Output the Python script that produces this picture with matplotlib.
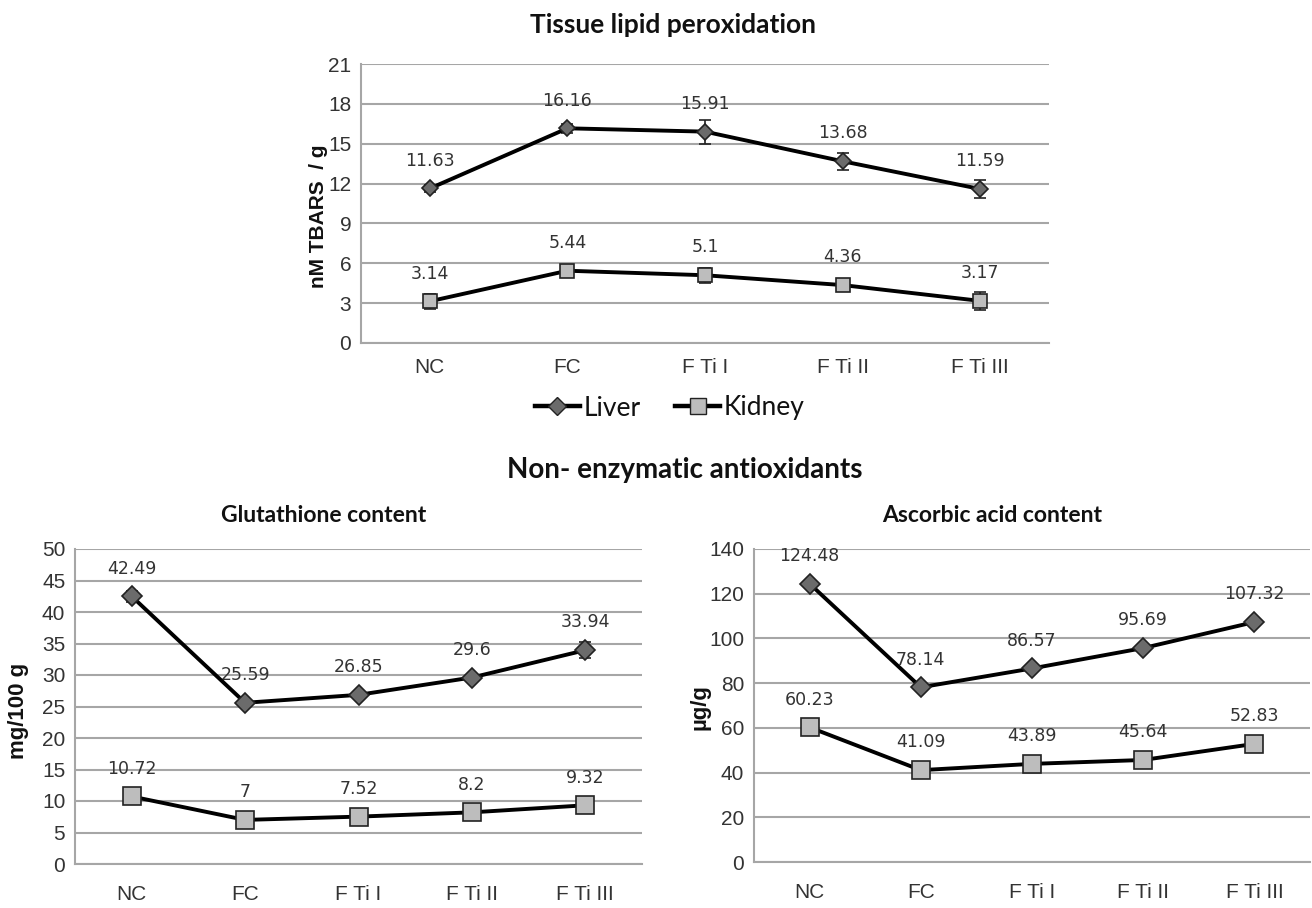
import matplotlib
matplotlib.use('Agg')
import matplotlib.pyplot as plt
from matplotlib.lines import Line2D

# ---------------- data ----------------
groups = ['NC', 'FC', 'F Ti I', 'F Ti II', 'F Ti III']

tbars_liver = [11.63, 16.16, 15.91, 13.68, 11.59]
tbars_kidney = [3.14, 5.44, 5.1, 4.36, 3.17]
tbars_liver_err = [0.3, 0.35, 0.9, 0.65, 0.7]
tbars_kidney_err = [0.55, 0.3, 0.55, 0.4, 0.7]

gsh_liver = [42.49, 25.59, 26.85, 29.6, 33.94]
gsh_kidney = [10.72, 7, 7.52, 8.2, 9.32]
gsh_liver_err = [0.9, 0.6, 0.5, 0.5, 1.3]
gsh_kidney_err = [0.5, 0.4, 0.4, 0.4, 0.4]

asc_liver = [124.48, 78.14, 86.57, 95.69, 107.32]
asc_kidney = [60.23, 41.09, 43.89, 45.64, 52.83]

tbars_ticks = list(range(0, 22, 3))
gsh_ticks = list(range(0, 51, 5))
asc_ticks = list(range(0, 141, 20))

# ---------------- styling ----------------
W, H = 1312, 908
fig = plt.figure(figsize=(W / 100, H / 100), dpi=100)
fig.patch.set_facecolor('white')

TICK_FONT = ['Liberation Sans Narrow', 'Liberation Sans', 'DejaVu Sans']
TITLE_FONT = ['Lato', 'DejaVu Sans']
LABEL_FONT = ['Liberation Sans', 'DejaVu Sans']
GRID_C = '#a6a6a6'
TXT_C = '#333333'
LIVER_FC = '#6b6b6b'
KIDNEY_FC = '#bdbdbd'


def box(l, t, r, b):
    return [l / W, 1 - b / H, (r - l) / W, (b - t) / H]


def style_axes(ax, ticks, ymax, xpad):
    x = list(range(len(groups)))
    ax.set_xlim(-0.5, len(groups) - 0.5)
    ax.set_ylim(0, ymax)
    ax.set_yticks(ticks)
    ax.set_xticks(x)
    ax.set_xticklabels(groups)
    ax.yaxis.grid(True, color=GRID_C, linewidth=1.5)
    ax.set_axisbelow(True)
    for s in ['top', 'right']:
        ax.spines[s].set_visible(False)
    for s in ['left', 'bottom']:
        ax.spines[s].set_color(GRID_C)
        ax.spines[s].set_linewidth(1.5)
    ax.tick_params(axis='both', length=0, colors=TXT_C)
    ax.tick_params(axis='y', pad=7)
    ax.tick_params(axis='x', pad=xpad)
    for lab in ax.get_xticklabels() + ax.get_yticklabels():
        lab.set_family(TICK_FONT)
        lab.set_fontsize(15)
        lab.set_color(TXT_C)


def draw_series(ax, vals, err, marker, fc, ms, offset=20):
    x = list(range(len(vals)))
    if err is not None:
        ax.errorbar(x, vals, yerr=err, fmt='none', ecolor='#222222',
                    elinewidth=1.2, capsize=4, capthick=1.2, zorder=3)
    ax.plot(x, vals, color='black', linewidth=2.8, marker=marker,
            markersize=ms, markerfacecolor=fc, markeredgecolor='#222222',
            markeredgewidth=1.2, zorder=4)
    for xi, v in zip(x, vals):
        ax.annotate(f'{v:g}', (xi, v), xytext=(0, offset),
                    textcoords='offset points', ha='center', va='center',
                    fontsize=12.5, color=TXT_C, family='DejaVu Sans')


# ---------------- top chart ----------------
ax1 = fig.add_axes(box(361, 64, 1049, 343))
style_axes(ax1, tbars_ticks, 21, 11)
draw_series(ax1, tbars_liver, tbars_liver_err, 'D', LIVER_FC, 8)
draw_series(ax1, tbars_kidney, tbars_kidney_err, 's', KIDNEY_FC, 10.5)
fig.text(673 / W, 1 - 25 / H, 'Tissue lipid peroxidation', ha='center',
         va='center', fontsize=19, fontweight='bold', family=TITLE_FONT,
         color='#111111')
fig.text(318 / W, 1 - 216 / H, 'nM TBARS  / g', rotation=90, ha='center',
         va='center', fontsize=15, fontweight='bold', family=LABEL_FONT,
         color='#111111')

handles = [
    Line2D([], [], color='black', linewidth=3.2, marker='D', markersize=9,
           markerfacecolor=LIVER_FC, markeredgecolor='#222222'),
    Line2D([], [], color='black', linewidth=3.2, marker='s', markersize=11,
           markerfacecolor=KIDNEY_FC, markeredgecolor='#222222'),
]
leg = fig.legend(handles, ['Liver', 'Kidney'], loc='center',
                 bbox_to_anchor=(670 / W, 1 - 408 / H), ncol=2, frameon=False,
                 prop={'family': TITLE_FONT, 'size': 19}, handlelength=1.7,
                 handletextpad=0.15, columnspacing=1.3)
for t in leg.get_texts():
    t.set_color('#111111')

fig.text(685 / W, 1 - 470 / H, 'Non- enzymatic antioxidants', ha='center',
         va='center', fontsize=20, fontweight='bold', family=TITLE_FONT,
         color='#111111')

# ---------------- glutathione ----------------
ax2 = fig.add_axes(box(75, 549, 642, 864))
style_axes(ax2, gsh_ticks, 50, 15)
draw_series(ax2, gsh_liver, gsh_liver_err, 'D', LIVER_FC, 10)
draw_series(ax2, gsh_kidney, gsh_kidney_err, 's', KIDNEY_FC, 12.5)
fig.text(324 / W, 1 - 515 / H, 'Glutathione content', ha='center',
         va='center', fontsize=16.5, fontweight='bold', family=TITLE_FONT,
         color='#111111')
fig.text(19 / W, 1 - 711 / H, 'mg/100 g', rotation=90, ha='center',
         va='center', fontsize=16, fontweight='bold', family=LABEL_FONT,
         color='#111111')

# ---------------- ascorbic acid ----------------
ax3 = fig.add_axes(box(754, 549, 1310, 862))
style_axes(ax3, asc_ticks, 140, 15)
draw_series(ax3, asc_liver, None, 'D', LIVER_FC, 10)
draw_series(ax3, asc_kidney, None, 's', KIDNEY_FC, 12.5)
fig.text(992 / W, 1 - 515 / H, 'Ascorbic acid content', ha='center',
         va='center', fontsize=16.5, fontweight='bold', family=TITLE_FONT,
         color='#111111')
fig.text(700 / W, 1 - 707 / H, 'µg/g', rotation=90, ha='center',
         va='center', fontsize=16, fontweight='bold', family=LABEL_FONT,
         color='#111111')

fig.savefig('out.png', dpi=100, facecolor='white')
